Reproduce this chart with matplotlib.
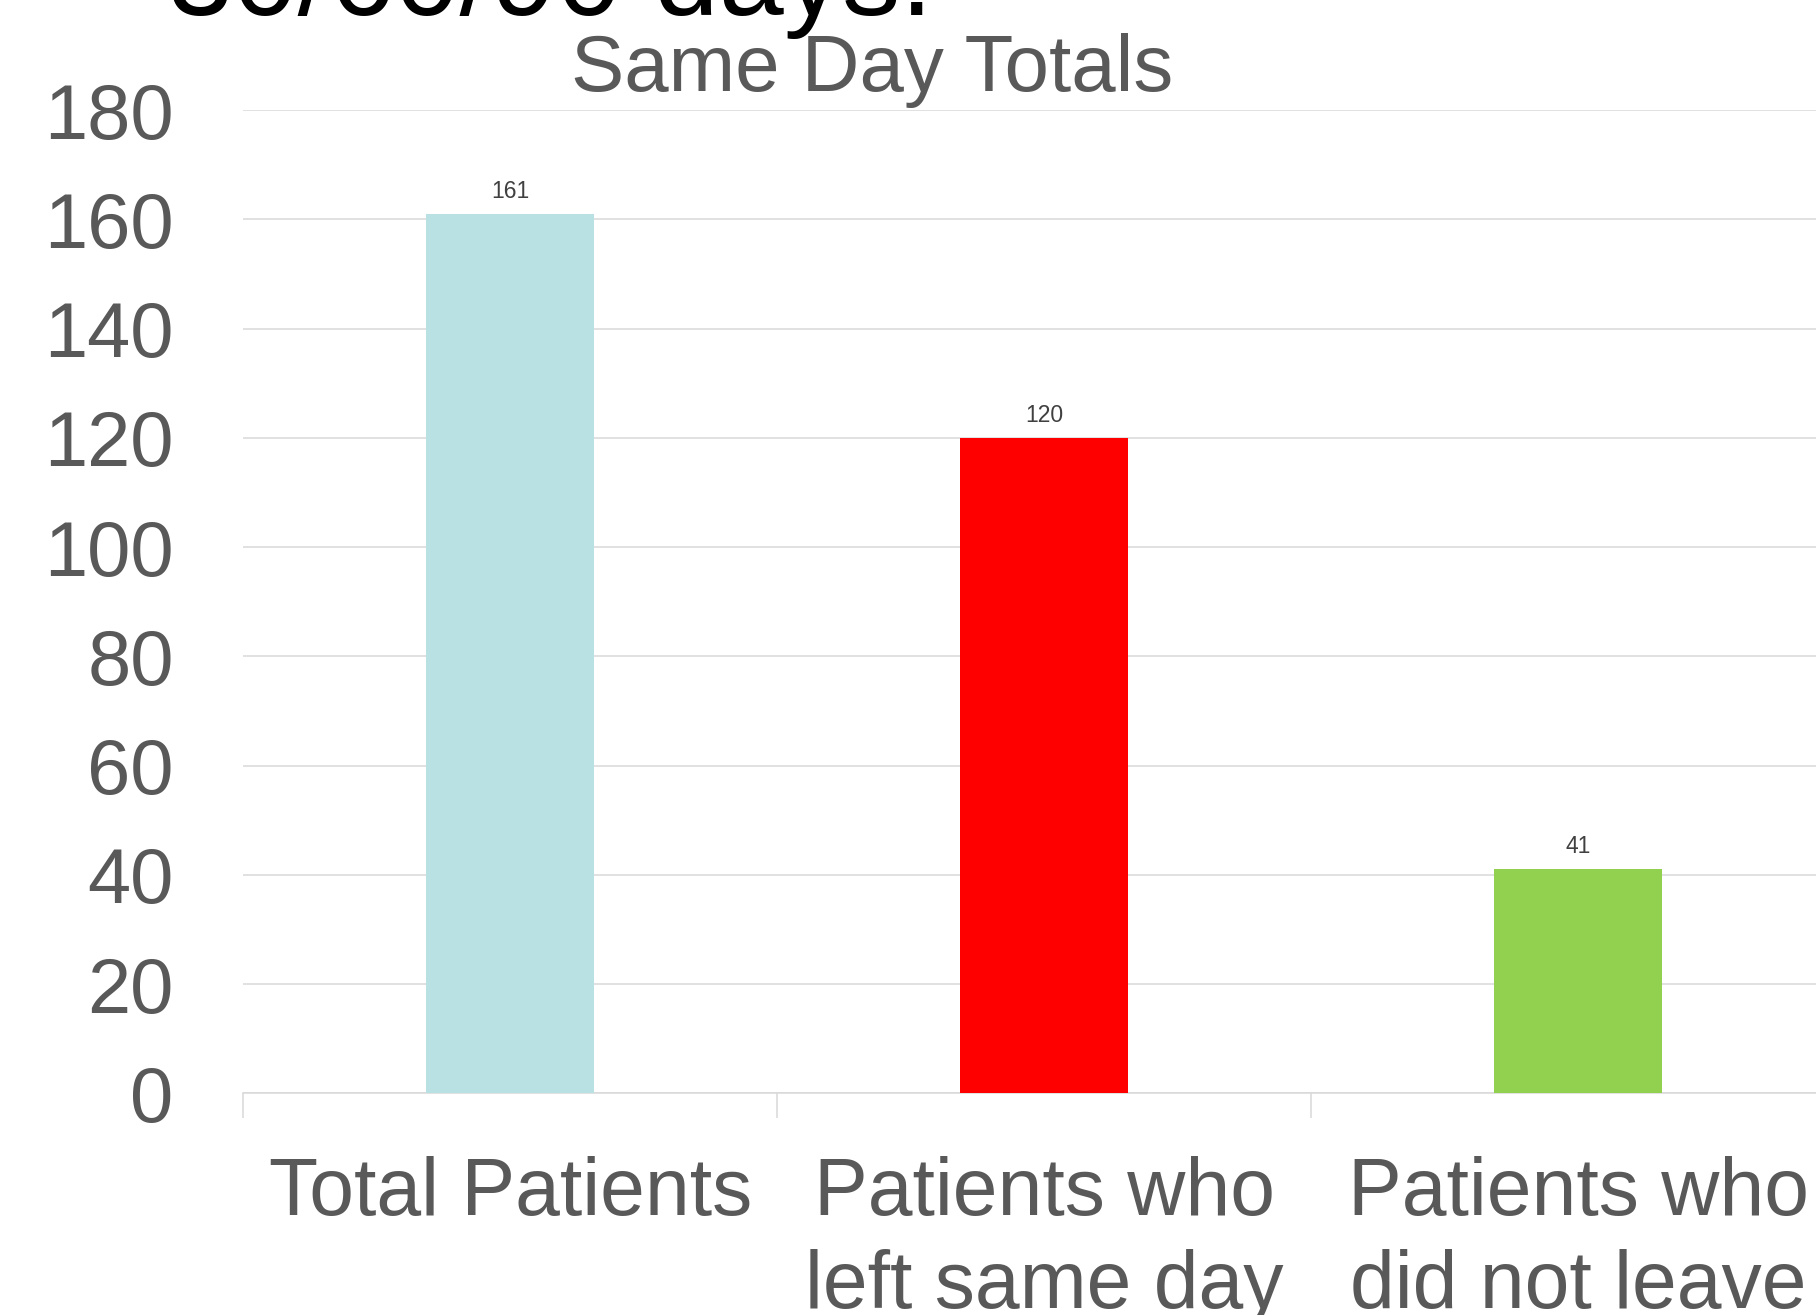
import numpy as np
import matplotlib.pyplot as plt

plt.rcParams['font.family'] = ['Liberation Sans', 'DejaVu Sans']

categories = ['Total Patients', 'Patients who\nleft same day', 'Patients who\ndid not leave']
values = [161, 120, 41]
colors = ['#b9e0e3', '#ff0000', '#92d050']
yticks = [0, 20, 40, 60, 80, 100, 120, 140, 160, 180]

fig = plt.figure(figsize=(18.16, 13.15), dpi=100)
ax = fig.add_axes([0.1339, 0.1686, 0.8822, 0.7477])

x = np.arange(len(categories))
bars = ax.bar(x, values, width=0.315, color=colors, zorder=3)

for b, v in zip(bars, values):
    ax.annotate(str(v), (b.get_x() + b.get_width() / 2, v), xytext=(0, 11.5),
                textcoords='offset points', ha='center', va='baseline',
                fontsize=16.5, color='#404040')

ax.set_xlim(-0.5, 2.5)
ax.set_ylim(0, 180)
ax.set_yticks(yticks)
ax.yaxis.grid(True, color='#d9d9d9', linewidth=1.1, zorder=0)
ax.set_axisbelow(True)

for s in ['top', 'right', 'left']:
    ax.spines[s].set_visible(False)
ax.spines['bottom'].set_color('#d9d9d9')
ax.spines['bottom'].set_linewidth(1.1)

ax.set_xticks(x)
ax.set_xticklabels(categories, fontsize=58, color='#595959', linespacing=1.3)
ax.set_xticks([-0.5, 0.5, 1.5, 2.5], minor=True)
ax.tick_params(axis='x', which='major', length=0, pad=45)
ax.tick_params(axis='x', which='minor', length=18, width=1.1, color='#d9d9d9')
ax.tick_params(axis='y', length=0, pad=50, labelsize=56, labelcolor='#595959')

fig.text(0.480, 0.931, 'Same Day Totals', ha='center', va='baseline',
         fontsize=57.5, color='#595959')
fig.text(168 / 1816, 0.9886, '30/60/90 days.', ha='left', va='baseline',
         fontsize=84, color='black')

fig.savefig('out.png', dpi=100)
